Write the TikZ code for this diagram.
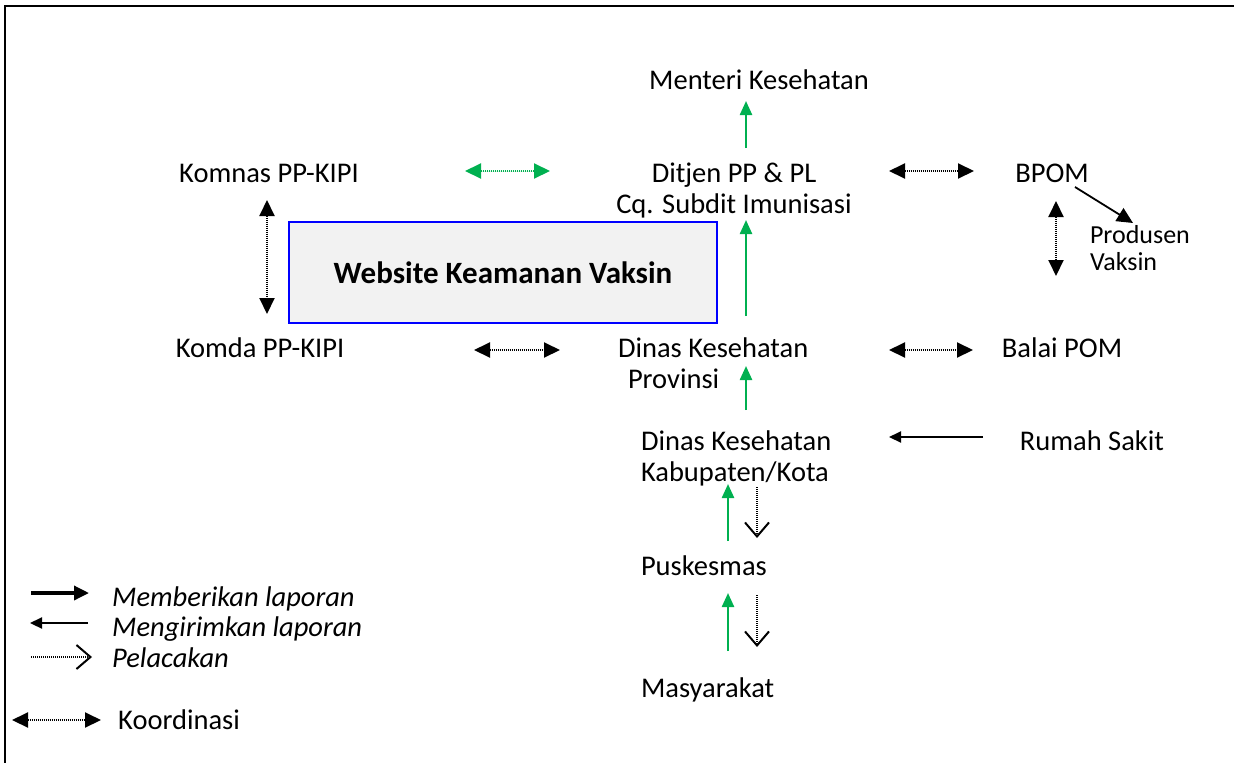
\documentclass[tikz,border=0pt]{standalone}
\usepackage{fontspec}
\setmainfont{Carlito}
\usetikzlibrary{arrows.meta}
\definecolor{wgreen}{HTML}{00B050}
\definecolor{wblue}{HTML}{0000FF}
\begin{document}
\begin{tikzpicture}[x=1pt,y=-1pt,
  lbl/.style={font=\fontsize{28.5}{31}\selectfont, inner sep=0pt, outer sep=0pt},
  smalllbl/.style={font=\fontsize{26}{27}\selectfont, inner sep=0pt, outer sep=0pt},
  leg/.style={font=\fontsize{28.5}{31}\selectfont\itshape, inner sep=0pt, anchor=base west},
  rep/.style={draw=wgreen, line width=2.4pt, -{Triangle[length=14pt,width=12pt]}},
  koor/.style={line width=2pt, dash pattern=on 1.4pt off 0.6pt, {Triangle[length=16pt,width=15pt]}-{Triangle[length=16pt,width=15pt]}},
  trace/.style={line width=1.8pt, dash pattern=on 1.4pt off 0.6pt, -{Straight Barb[length=14pt,width=24pt,line width=2pt]}},
  send/.style={line width=2.2pt, -{Triangle[length=12pt,width=11pt]}},
  give/.style={line width=3.4pt, -{Triangle[length=15pt,width=14pt]}},
  solidarr/.style={line width=1.8pt, -{Triangle[length=16pt,width=15pt]}},
  webbox/.style={draw=wblue, line width=1.5pt, fill=gray!10, minimum width=428pt, minimum height=101pt, inner sep=0pt,
    font=\fontsize{31}{34}\selectfont\bfseries}
]
\useasboundingbox (0,0) rectangle (1234,763);
% frame
\draw[line width=2pt] (1234,6) -- (5,6) -- (5,763);

% nodes
\node[lbl, anchor=base] (menteri) at (759,89) {Menteri Kesehatan};
\node[lbl, align=center] (ditjen) at (734,190.5) {Ditjen PP \& PL\\Cq. Subdit Imunisasi};
\node[lbl, anchor=base] (komnas) at (269,182) {Komnas PP-KIPI};
\node[lbl, anchor=base] (bpom) at (1052,182) {BPOM};
\node[smalllbl, align=left, anchor=west] (produsen) at (1090,248) {Produsen\\Vaksin};
\node[webbox] (web) at (503,272.5) {Website Keamanan Vaksin};
\node[lbl, anchor=base] (komda) at (260,357) {Komda PP-KIPI};
\node[lbl, align=left, anchor=west] (prov) at (618,363) {Dinas Kesehatan\\\hspace*{10pt}Provinsi};
\node[lbl, anchor=base] (balai) at (1062,357) {Balai POM};
\node[lbl, align=left, anchor=west] (kab) at (641,458.5) {Dinas Kesehatan\\Kabupaten/Kota};
\node[lbl, anchor=base] (rs) at (1092,450) {Rumah Sakit};
\node[lbl, anchor=base west] (pusk) at (641,575) {Puskesmas};
\node[lbl, anchor=base west] (masy) at (641,697) {Masyarakat};

% connector end points
\coordinate (m1) at (746,148); \coordinate (m2) at (746,101);
\coordinate (d1) at (746,316); \coordinate (d2) at (746,220);
\coordinate (p1) at (746,410); \coordinate (p2) at (746,366);
\coordinate (k1) at (728,541); \coordinate (k2) at (728,484);
\coordinate (t1) at (757,487); \coordinate (t2) at (757,538);
\coordinate (s1) at (728,651); \coordinate (s2) at (728,593);
\coordinate (u1) at (757,595); \coordinate (u2) at (757,647);
\coordinate (g1) at (465,171); \coordinate (g2) at (550,171);
\coordinate (b1) at (889,171); \coordinate (b2) at (974,171);
\coordinate (v1) at (1056,201); \coordinate (v2) at (1056,276);
\coordinate (q1) at (1075,187); \coordinate (q2) at (1133,223);
\coordinate (kv1) at (267,200); \coordinate (kv2) at (267,314);
\coordinate (c1) at (474,350); \coordinate (c2) at (560,350);
\coordinate (e1) at (889,350); \coordinate (e2) at (973,350);
\coordinate (r1) at (983,437); \coordinate (r2) at (889,437);

\draw[rep] (m1) -- (m2);
\draw[rep] (d1) -- (d2);
\draw[rep] (p1) -- (p2);
\draw[rep] (k1) -- (k2);
\draw[rep] (s1) -- (s2);
\draw[trace] (t1) -- (t2);
\draw[trace] (u1) -- (u2);
\draw[koor, draw=wgreen, fill=wgreen] (g1) -- (g2);
\draw[koor] (b1) -- (b2);
\draw[koor] (v1) -- (v2);
\draw[koor] (kv1) -- (kv2);
\draw[koor] (c1) -- (c2);
\draw[koor] (e1) -- (e2);
\draw[solidarr] (q1) -- (q2);
\draw[send] (r1) -- (r2);

% legend
\coordinate (l1a) at (31,593); \coordinate (l1b) at (89,593);
\coordinate (l2a) at (88,623); \coordinate (l2b) at (30,623);
\coordinate (l3a) at (31,657); \coordinate (l3b) at (92,657);
\coordinate (l4a) at (12,720); \coordinate (l4b) at (101,720);
\draw[give] (l1a) -- (l1b);
\draw[send] (l2a) -- (l2b);
\draw[trace] (l3a) -- (l3b);
\draw[koor] (l4a) -- (l4b);
\node[leg] (lg1) at (112,606) {Memberikan laporan};
\node[leg] (lg2) at (112,636) {Mengirimkan laporan};
\node[leg] (lg3) at (112,667) {Pelacakan};
\node[leg, font=\fontsize{28.5}{31}\selectfont] (lg4) at (118,729) {Koordinasi};
\end{tikzpicture}
\end{document}
